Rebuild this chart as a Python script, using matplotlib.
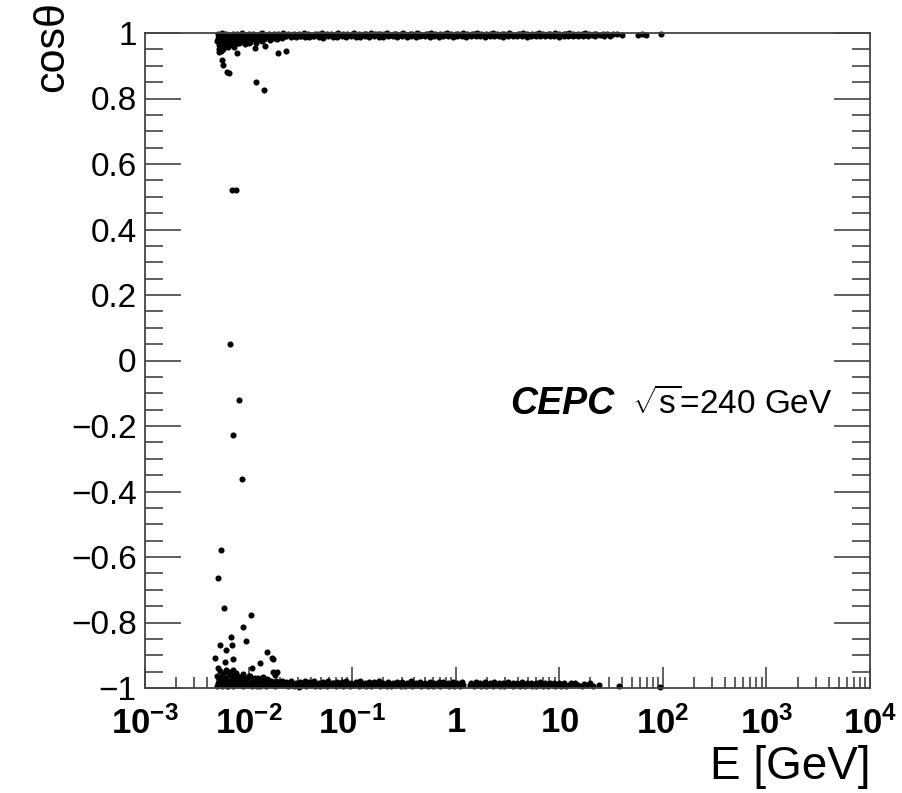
import matplotlib
matplotlib.use("Agg")
import matplotlib.pyplot as plt
from matplotlib import font_manager
from matplotlib.ticker import FixedLocator, FixedFormatter, LogLocator, NullFormatter, MultipleLocator

plt.rcParams['font.family'] = ['Liberation Sans', 'DejaVu Sans']
plt.rcParams['mathtext.fontset'] = 'custom'
plt.rcParams['mathtext.rm'] = 'Liberation Sans'
plt.rcParams['mathtext.it'] = 'Liberation Sans:italic'
narrow = [f.name for f in font_manager.fontManager.ttflist if f.name == 'Liberation Sans Narrow']
plt.rcParams['mathtext.bf'] = 'Liberation Sans Narrow:bold' if narrow else 'Liberation Sans:bold'

# band of photons going forward (cos ~ 1)
top_E = [
    0.0051, 0.0053, 0.0056, 0.0058, 0.0061, 0.0064, 0.0067, 0.0070, 0.0074, 0.0078,
    0.0082, 0.0086, 0.0090, 0.0095, 0.0100, 0.0105, 0.0110, 0.0116, 0.0122, 0.0128,
    0.0135, 0.0142, 0.0150, 0.0158, 0.0166, 0.0175, 0.0184, 0.0194, 0.0204, 0.0215,
    0.0226, 0.0238, 0.0250, 0.0263, 0.0277, 0.0292, 0.0307, 0.0323, 0.0340, 0.0358,
    0.0377, 0.0397, 0.0418, 0.0440, 0.0463, 0.0487, 0.0513, 0.0540, 0.0568, 0.0598,
    0.063, 0.066, 0.070, 0.0735, 0.0775, 0.0815, 0.086, 0.090, 0.095, 0.100,
    0.105, 0.111, 0.117, 0.123, 0.129, 0.136, 0.143, 0.151, 0.159, 0.167,
    0.176, 0.185, 0.195, 0.205, 0.216, 0.227, 0.239, 0.252, 0.265, 0.279,
    0.294, 0.309, 0.325, 0.342, 0.360, 0.379, 0.399, 0.420, 0.442, 0.465,
    0.490, 0.515, 0.542, 0.571, 0.601, 0.632, 0.665, 0.700, 0.737, 0.776,
    0.817, 0.860, 0.905, 0.953, 1.00, 1.05, 1.11, 1.17, 1.23, 1.29,
    1.36, 1.43, 1.51, 1.59, 1.67, 1.76, 1.85, 1.95, 2.05, 2.16,
    2.27, 2.39, 2.52, 2.65, 2.79, 2.94, 3.09, 3.25, 3.42, 3.60,
    3.79, 3.99, 4.20, 4.42, 4.65, 4.90, 5.15, 5.42, 5.71, 6.01,
    6.32, 6.65, 7.00, 7.37, 7.76, 8.17, 8.60, 9.05, 9.53, 10.0,
    10.5, 11.1, 11.7, 12.3, 12.9, 13.6, 14.3, 15.1, 15.9, 16.7,
    17.6, 18.5, 19.5, 20.5, 21.6, 22.7, 24.5, 26.5, 29.0, 33.0,
    36.0, 58.0, 63.0, 69.0, 95.0,
]
top_cos = [
    0.996, 0.990, 0.999, 0.993, 0.997, 0.989, 0.995, 0.998, 0.991, 0.996,
    0.993, 0.999, 0.990, 0.995, 0.997, 0.992, 0.998, 0.994, 0.990, 0.996,
    0.999, 0.991, 0.995, 0.997, 0.993, 0.998, 0.990, 0.996, 0.994, 0.999,
    0.992, 0.997, 0.995, 0.990, 0.998, 0.994, 0.996, 0.991, 0.999, 0.993,
    0.997, 0.995, 0.992, 0.998, 0.996, 0.993, 0.999, 0.994, 0.997, 0.995,
    0.998, 0.993, 0.996, 0.999, 0.994, 0.997, 0.992, 0.998, 0.995, 0.996,
    0.999, 0.994, 0.997, 0.993, 0.998, 0.996, 0.995, 0.999, 0.993, 0.997,
    0.996, 0.998, 0.994, 0.997, 0.999, 0.995, 0.993, 0.998, 0.996, 0.994,
    0.997, 0.999, 0.995, 0.993, 0.998, 0.996, 0.994, 0.999, 0.997, 0.995,
    0.993, 0.998, 0.996, 0.999, 0.994, 0.997, 0.995, 0.998, 0.993, 0.996,
    0.999, 0.994, 0.997, 0.995, 0.998, 0.996, 0.993, 0.999, 0.995, 0.997,
    0.994, 0.998, 0.996, 0.999, 0.993, 0.997, 0.995, 0.998, 0.994, 0.996,
    0.999, 0.995, 0.997, 0.993, 0.998, 0.996, 0.994, 0.999, 0.997, 0.995,
    0.993, 0.998, 0.996, 0.999, 0.994, 0.997, 0.995, 0.998, 0.993, 0.996,
    0.999, 0.994, 0.997, 0.995, 0.998, 0.996, 0.993, 0.999, 0.995, 0.997,
    0.994, 0.998, 0.996, 0.999, 0.993, 0.997, 0.995, 0.998, 0.994, 0.996,
    0.999, 0.995, 0.997, 0.994, 0.998, 0.996, 0.995, 0.998, 0.997, 0.996,
    0.997, 0.995, 0.997, 0.994, 0.996,
]

# lower edge of the forward band
top2_E = [
    0.0052, 0.0057, 0.0063, 0.0069, 0.0076, 0.0084, 0.0093, 0.0102, 0.0113, 0.0125,
    0.0138, 0.0153, 0.0170, 0.0188, 0.0208, 0.0232, 0.0256, 0.0284, 0.0315, 0.0349,
    0.0387, 0.0430, 0.0476, 0.0527, 0.0584, 0.0647, 0.0717, 0.0795, 0.0881, 0.0976,
    0.108, 0.120, 0.133, 0.147, 0.163, 0.181, 0.200, 0.222, 0.246, 0.273,
    0.302, 0.335, 0.371, 0.411, 0.455, 0.505, 0.559, 0.620, 0.687, 0.761,
    0.843, 0.934, 1.035, 1.147, 1.27, 1.41, 1.56, 1.73, 1.92, 2.12,
    2.35, 2.61, 2.89, 3.20, 3.55, 3.93, 4.36, 4.83, 5.35, 5.93,
    6.57, 7.28, 8.07, 8.94, 9.90, 11.0, 12.2, 13.5, 15.0, 17.0,
    19.0, 22.0, 27.0, 31.0, 40.0,
]
top2_cos = [
    0.986, 0.989, 0.987, 0.991, 0.988, 0.986, 0.990, 0.987, 0.989, 0.986,
    0.988, 0.991, 0.987, 0.989, 0.986, 0.990, 0.988, 0.987, 0.991, 0.989,
    0.987, 0.990, 0.988, 0.986, 0.991, 0.989, 0.987, 0.990, 0.988, 0.991,
    0.989, 0.987, 0.990, 0.988, 0.991, 0.989, 0.987, 0.990, 0.992, 0.988,
    0.990, 0.989, 0.991, 0.988, 0.990, 0.992, 0.989, 0.991, 0.988, 0.990,
    0.991, 0.989, 0.992, 0.990, 0.988, 0.991, 0.990, 0.992, 0.989, 0.991,
    0.990, 0.992, 0.989, 0.991, 0.990, 0.992, 0.991, 0.989, 0.992, 0.990,
    0.991, 0.992, 0.990, 0.991, 0.989, 0.992, 0.990, 0.991, 0.992, 0.990,
    0.991, 0.992, 0.991, 0.992, 0.993,
]

# low-energy cluster just below the forward band
lowtop_E = [
    0.0050, 0.0052, 0.0054, 0.0055, 0.0057, 0.0059, 0.0060, 0.0062, 0.0065, 0.0068,
    0.0071, 0.0073, 0.0076, 0.0080, 0.0084, 0.0088, 0.0093, 0.0098, 0.0104, 0.0110,
    0.0118, 0.0126, 0.0135, 0.0145, 0.0160, 0.0175, 0.0190, 0.0210,
    0.0051, 0.0053, 0.0055, 0.0056, 0.0058, 0.0061, 0.0063, 0.0066, 0.0069, 0.0072,
    0.0075, 0.0078, 0.0082, 0.0086, 0.0091, 0.0096, 0.0101, 0.0107, 0.0114, 0.0122,
    0.0130, 0.0140, 0.0052, 0.0054, 0.0057, 0.0060, 0.0064, 0.0067, 0.0070, 0.0079,
]
lowtop_cos = [
    0.975, 0.962, 0.980, 0.955, 0.970, 0.985, 0.960, 0.978, 0.966, 0.982,
    0.972, 0.958, 0.984, 0.968, 0.976, 0.981, 0.965, 0.979, 0.973, 0.983,
    0.970, 0.985, 0.977, 0.986, 0.980, 0.984, 0.982, 0.987,
    0.985, 0.978, 0.968, 0.988, 0.982, 0.972, 0.986, 0.979, 0.988, 0.975,
    0.984, 0.970, 0.987, 0.980, 0.974, 0.986, 0.969, 0.984, 0.988, 0.978,
    0.985, 0.981, 0.950, 0.946, 0.952, 0.963, 0.957, 0.974, 0.962, 0.975,
]

# isolated points
scatter_E = [
    0.00518, 0.0055, 0.00566, 0.0062, 0.0065, 0.0077, 0.0115, 0.0144, 0.0118, 0.0141,
    0.0192, 0.0230, 0.0069, 0.00755, 0.0066, 0.0081, 0.0070, 0.0086, 0.0054, 0.00503,
    0.0058, 0.0105, 0.00877, 0.0067, 0.0094, 0.0053, 0.00686, 0.0061, 0.0151, 0.00474,
    0.0059, 0.0070, 0.0167, 0.0172, 0.0129, 0.0107, 0.0174, 0.0187, 0.0051,
]
scatter_cos = [
    0.942, 0.918, 0.902, 0.881, 0.877, 0.939, 0.954, 0.960, 0.850, 0.826,
    0.940, 0.945, 0.521, 0.521, 0.050, -0.121, -0.228, -0.362, -0.579, -0.664,
    -0.756, -0.777, -0.815, -0.843, -0.856, -0.869, -0.869, -0.884, -0.889, -0.909,
    -0.920, -0.912, -0.909, -0.912, -0.925, -0.940, -0.950, -0.950, -0.940,
]

# low-energy cluster just above the backward band
lowbot_E = [
    0.0050, 0.0051, 0.0053, 0.0054, 0.0056, 0.0057, 0.0059, 0.0060, 0.0062, 0.0064,
    0.0065, 0.0067, 0.0069, 0.0071, 0.0073, 0.0075, 0.0078, 0.0080, 0.0083, 0.0086,
    0.0089, 0.0092, 0.0095, 0.0099, 0.0103, 0.0107, 0.0111, 0.0116, 0.0121, 0.0126,
    0.0132, 0.0138, 0.0144, 0.0151, 0.0158, 0.0165, 0.0172, 0.0180, 0.0188, 0.0196,
    0.0050, 0.0052, 0.0053, 0.0055, 0.0056, 0.0058, 0.0061, 0.0063, 0.0066, 0.0068,
    0.0070, 0.0072, 0.0074, 0.0077, 0.0079, 0.0082, 0.0085, 0.0088, 0.0091, 0.0094,
    0.0097, 0.0101, 0.0105, 0.0109, 0.0114, 0.0119, 0.0124, 0.0129, 0.0135, 0.0141,
    0.0148, 0.0155, 0.0162, 0.0170, 0.0178, 0.0186, 0.0194, 0.0060, 0.0065, 0.0071,
]
lowbot_cos = [
    -0.962, -0.985, -0.948, -0.975, -0.990, -0.958, -0.980, -0.968, -0.993, -0.952,
    -0.978, -0.987, -0.960, -0.972, -0.991, -0.955, -0.982, -0.966, -0.989, -0.974,
    -0.958, -0.984, -0.970, -0.992, -0.963, -0.979, -0.986, -0.969, -0.993, -0.976,
    -0.982, -0.965, -0.988, -0.973, -0.990, -0.978, -0.985, -0.960, -0.991, -0.981,
    -0.993, -0.970, -0.982, -0.995, -0.965, -0.988, -0.976, -0.994, -0.959, -0.984,
    -0.995, -0.972, -0.987, -0.962, -0.992, -0.979, -0.967, -0.994, -0.983, -0.971,
    -0.990, -0.964, -0.985, -0.995, -0.975, -0.989, -0.968, -0.993, -0.980, -0.987,
    -0.995, -0.976, -0.990, -0.983, -0.994, -0.978, -0.989, -0.945, -0.951, -0.944,
]

# band of photons going backward (cos ~ -1)
bot_E = [
    0.0205, 0.0215, 0.0226, 0.0238, 0.0250, 0.0263, 0.0277, 0.0292, 0.0307, 0.0323,
    0.0340, 0.0358, 0.0377, 0.0397, 0.0418, 0.0440, 0.0463, 0.0487, 0.0513, 0.0540,
    0.0568, 0.0598, 0.063, 0.066, 0.070, 0.0735, 0.0775, 0.0815, 0.086, 0.090,
    0.095, 0.100, 0.105, 0.111, 0.117, 0.123, 0.129, 0.136, 0.143, 0.151,
    0.159, 0.167, 0.176, 0.185, 0.195, 0.205, 0.216, 0.227, 0.239, 0.252,
    0.265, 0.279, 0.294, 0.309, 0.325, 0.342, 0.360, 0.379, 0.399, 0.420,
    0.442, 0.465, 0.490, 0.515, 0.542, 0.571, 0.601, 0.632, 0.665, 0.700,
    0.737, 0.776, 0.817, 0.860, 0.905, 0.953, 1.00, 1.05, 1.11, 1.17,
    1.36, 1.43, 1.51, 1.59, 1.67, 1.76, 1.85, 1.95, 2.05, 2.16,
    2.27, 2.39, 2.52, 2.65, 2.79, 2.94, 3.09, 3.25, 3.42, 3.60,
    3.79, 3.99, 4.20, 4.42, 4.65, 4.90, 5.15, 5.42, 5.71, 6.01,
    6.32, 6.65, 7.00, 7.37, 7.76, 8.17, 8.60, 9.05, 9.53, 10.0,
    10.5, 11.1, 11.7, 12.3, 13.6, 15.1, 16.7, 18.5, 21.0, 24.0,
    38.0, 93.0,
]
bot_cos = [
    -0.985, -0.992, -0.988, -0.995, -0.990, -0.986, -0.993, -0.989, -0.996, -0.987,
    -0.991, -0.994, -0.988, -0.992, -0.986, -0.995, -0.990, -0.993, -0.987, -0.991,
    -0.994, -0.989, -0.992, -0.986, -0.995, -0.990, -0.988, -0.993, -0.991, -0.987,
    -0.994, -0.990, -0.992, -0.988, -0.995, -0.991, -0.987, -0.993, -0.990, -0.994,
    -0.988, -0.992, -0.990, -0.995, -0.987, -0.991, -0.993, -0.989, -0.994, -0.990,
    -0.992, -0.988, -0.995, -0.990, -0.993, -0.987, -0.991, -0.994, -0.989, -0.992,
    -0.990, -0.994, -0.988, -0.992, -0.995, -0.990, -0.993, -0.989, -0.991, -0.994,
    -0.988, -0.992, -0.990, -0.995, -0.989, -0.993, -0.991, -0.988, -0.994, -0.990,
    -0.992, -0.989, -0.994, -0.991, -0.988, -0.993, -0.990, -0.995, -0.989, -0.992,
    -0.994, -0.990, -0.988, -0.993, -0.991, -0.995, -0.989, -0.992, -0.990, -0.994,
    -0.991, -0.988, -0.993, -0.990, -0.995, -0.989, -0.992, -0.994, -0.990, -0.993,
    -0.989, -0.992, -0.995, -0.990, -0.993, -0.988, -0.991, -0.994, -0.990, -0.992,
    -0.993, -0.990, -0.994, -0.991, -0.992, -0.990, -0.993, -0.991, -0.994, -0.992,
    -0.993, -0.997,
]

# upper edge of the backward band
bot2_E = [
    0.0210, 0.0232, 0.0256, 0.0284, 0.0315, 0.0349, 0.0387, 0.0430, 0.0476, 0.0527,
    0.0584, 0.0647, 0.0717, 0.0795, 0.0881, 0.0976, 0.108, 0.120, 0.133, 0.147,
    0.163, 0.181, 0.200, 0.222, 0.246, 0.273, 0.302, 0.335, 0.371, 0.411,
    0.455, 0.505, 0.559, 0.620, 0.687, 0.761, 0.843, 0.934, 1.035, 1.147,
    1.41, 1.56, 1.73, 1.92, 2.12, 2.35, 2.61, 2.89, 3.20, 3.55,
    3.93, 4.36, 4.83, 5.35, 5.93, 6.57, 7.28, 8.07, 8.94, 9.90,
    11.0, 12.9, 14.3, 17.5, 19.8,
]
bot2_cos = [
    -0.978, -0.982, -0.980, -0.984, -0.981, -0.979, -0.983, -0.980, -0.985, -0.982,
    -0.980, -0.984, -0.981, -0.983, -0.979, -0.984, -0.982, -0.980, -0.985, -0.981,
    -0.983, -0.980, -0.984, -0.982, -0.985, -0.981, -0.983, -0.984, -0.980, -0.985,
    -0.982, -0.984, -0.981, -0.985, -0.983, -0.982, -0.985, -0.981, -0.984, -0.983,
    -0.985, -0.982, -0.984, -0.983, -0.986, -0.982, -0.985, -0.984, -0.982, -0.986,
    -0.984, -0.983, -0.986, -0.984, -0.985, -0.983, -0.986, -0.984, -0.985, -0.986,
    -0.985, -0.986, -0.985, -0.987, -0.986,
]

x_ticks = [1e-3, 1e-2, 1e-1, 1, 10, 1e2, 1e3, 1e4]
x_labels = [r'$\mathbf{10^{-3}}$', r'$\mathbf{10^{-2}}$', r'$\mathbf{10^{-1}}$',
            r'$\mathbf{1}$', r'$\mathbf{10}$', r'$\mathbf{10^{2}}$',
            r'$\mathbf{10^{3}}$', r'$\mathbf{10^{4}}$']
y_ticks = [-1, -0.8, -0.6, -0.4, -0.2, 0, 0.2, 0.4, 0.6, 0.8, 1]
y_labels = ['\u22121', '\u22120.8', '\u22120.6', '\u22120.4', '\u22120.2', '0',
            '0.2', '0.4', '0.6', '0.8', '1']

fig = plt.figure(figsize=(9.02, 7.93), dpi=100)
ax = fig.add_axes([145 / 902, 1 - 688 / 793, 725 / 902, 655 / 793])

frame_col = '#444444'
for E, c in [(top_E, top_cos), (top2_E, top2_cos), (lowtop_E, lowtop_cos),
             (scatter_E, scatter_cos), (lowbot_E, lowbot_cos),
             (bot_E, bot_cos), (bot2_E, bot2_cos)]:
    ax.plot(E, c, linestyle='none', marker='o', markersize=4.4, color='black',
            markeredgewidth=0, clip_on=False)

ax.set_xscale('log')
ax.set_xlim(1e-3, 1e4)
ax.set_ylim(-1, 1)

for s in ax.spines.values():
    s.set_color(frame_col)
    s.set_linewidth(1.3)

ax.xaxis.set_major_locator(FixedLocator(x_ticks))
ax.xaxis.set_major_formatter(FixedFormatter(x_labels))
ax.xaxis.set_minor_locator(LogLocator(base=10, subs=range(2, 10), numticks=20))
ax.xaxis.set_minor_formatter(NullFormatter())
ax.yaxis.set_major_locator(FixedLocator(y_ticks))
ax.yaxis.set_major_formatter(FixedFormatter(y_labels))
ax.yaxis.set_minor_locator(MultipleLocator(0.05))

ax.tick_params(axis='x', which='major', direction='in', length=15, width=1.2,
               color=frame_col, labelsize=28 if narrow else 25, pad=13, top=False)
ax.tick_params(axis='x', which='minor', direction='in', length=8, width=1.2,
               color=frame_col, top=False)
ax.tick_params(axis='y', which='major', direction='in', length=26, width=1.2,
               color=frame_col, labelsize=24, pad=6, right=True)
ax.tick_params(axis='y', which='minor', direction='in', length=13, width=1.2,
               color=frame_col, right=True)

fig.text(870 / 902, 1 - 767 / 793, 'E [GeV]', fontsize=33, ha='right', va='center')
fig.text(52 / 902, 1 - 47 / 793, 'cos\u03b8', fontsize=31, rotation=90,
         ha='center', va='center')

fig.text(510 / 902, 1 - 404 / 793, 'CEPC', fontsize=27, fontweight='bold',
         fontstyle='italic', ha='left', va='center')
fig.text(632 / 902, 1 - 404 / 793, r'$\sqrt{\mathrm{s}}$=240 GeV', fontsize=24,
         ha='left', va='center')

fig.savefig('out.png', dpi=100)
